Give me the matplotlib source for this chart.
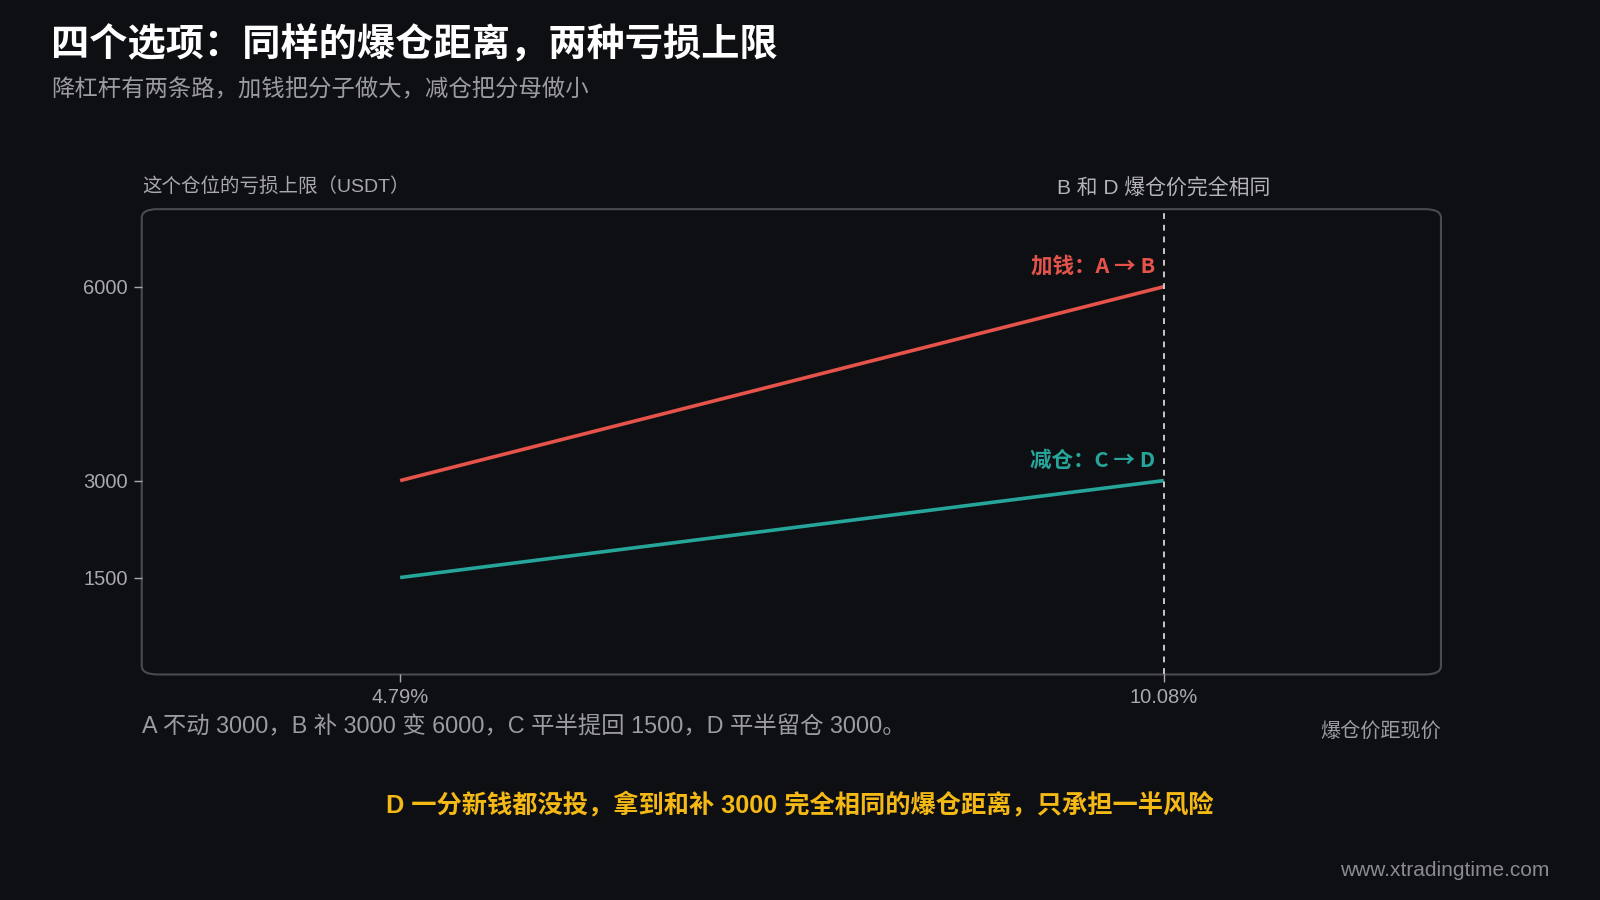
import matplotlib
matplotlib.use("Agg")
import matplotlib.pyplot as plt
from matplotlib.patches import FancyBboxPatch

plt.rcParams['font.family'] = ['Liberation Sans', 'Noto Sans CJK SC', 'DejaVu Sans']
CJK = ['Noto Sans CJK SC', 'DejaVu Sans']

# ---- data ----
x_labels = ["4.79%", "10.08%"]
x_vals = [4.79, 10.08]
add_money = [3000, 6000]      # A -> B
reduce_pos = [1500, 3000]     # C -> D
y_ticks = [1500, 3000, 6000]

BG = "#0e0f13"
RED = "#e5534b"
TEAL = "#26a69a"
GRAY = "#9b9ba0"
YELLOW = "#f5b915"

fig = plt.figure(figsize=(16, 9), dpi=100, facecolor=BG)
ax = fig.add_axes([0.0886, 0.2506, 0.812, 0.517], facecolor=BG)

ax.plot(x_vals, add_money, color=RED, lw=2.6, solid_capstyle="butt")
ax.plot(x_vals, reduce_pos, color=TEAL, lw=2.6, solid_capstyle="butt")
ax.axvline(x_vals[1], color="#c8c8cc", lw=1.4, ls=(0, (3, 3)))

ax.set_xlim(3.0, 12.0)
ax.set_ylim(0, 7200)
ax.set_xticks(x_vals)
ax.set_xticklabels(x_labels)
ax.set_yticks(y_ticks)
ax.set_yticklabels([str(v) for v in y_ticks])
ax.tick_params(colors="#a8a8ad", labelcolor="#a8a8ad", labelsize=14.5, length=6, width=1, pad=4)
for s in ax.spines.values():
    s.set_visible(False)

frame = FancyBboxPatch((0, 0), 1, 1, boxstyle="round,pad=0,rounding_size=0.012",
                       transform=ax.transAxes, fill=False, edgecolor="#4a4a50", lw=1.5,
                       clip_on=False, mutation_aspect=1.57)
ax.add_patch(frame)

# annotations inside
ax.text(x_vals[1] - 0.06, add_money[1] + 150, "加钱：A → B", color=RED, fontsize=15.5,
        fontweight="bold", family=CJK, ha="right", va="bottom")
ax.text(x_vals[1] - 0.06, reduce_pos[1] + 150, "减仓：C → D", color=TEAL, fontsize=15.5,
        fontweight="bold", family=CJK, ha="right", va="bottom")

# figure texts
fig.text(51 / 1600, 1 - 45 / 900, "四个选项：同样的爆仓距离，两种亏损上限", color="white",
         fontsize=27.5, fontweight="bold", ha="left", va="center")
fig.text(51 / 1600, 1 - 89 / 900, "降杠杆有两条路，加钱把分子做大，减仓把分母做小", color=GRAY,
         fontsize=16.8, ha="left", va="center")
fig.text(142 / 1600, 1 - 186 / 900, "这个仓位的亏损上限（USDT）", color="#a8a8ad",
         fontsize=14, ha="left", va="center")
fig.text(1164 / 1600, 1 - 189 / 900, "B 和 D 爆仓价完全相同", color="#b4b4b8",
         fontsize=15, ha="center", va="center")
fig.text(142 / 1600, 1 - 727 / 900,
         "A 不动 3000，B 补 3000 变 6000，C 平半提回 1500，D 平半留仓 3000。",
         color=GRAY, fontsize=16.8, ha="left", va="center")
fig.text(1441 / 1600, 1 - 731 / 900, "爆仓价距现价", color=GRAY, fontsize=14.5,
         ha="right", va="center")
fig.text(800 / 1600, 1 - 804 / 900,
         "D 一分新钱都没投，拿到和补 3000 完全相同的爆仓距离，只承担一半风险",
         color=YELLOW, fontsize=18.2, fontweight="bold", ha="center", va="center")
fig.text(1549 / 1600, 1 - 870 / 900, "www.xtradingtime.com", color="#8a8a90",
         fontsize=15, ha="right", va="center")

fig.savefig("out.png", dpi=100, facecolor=BG)
